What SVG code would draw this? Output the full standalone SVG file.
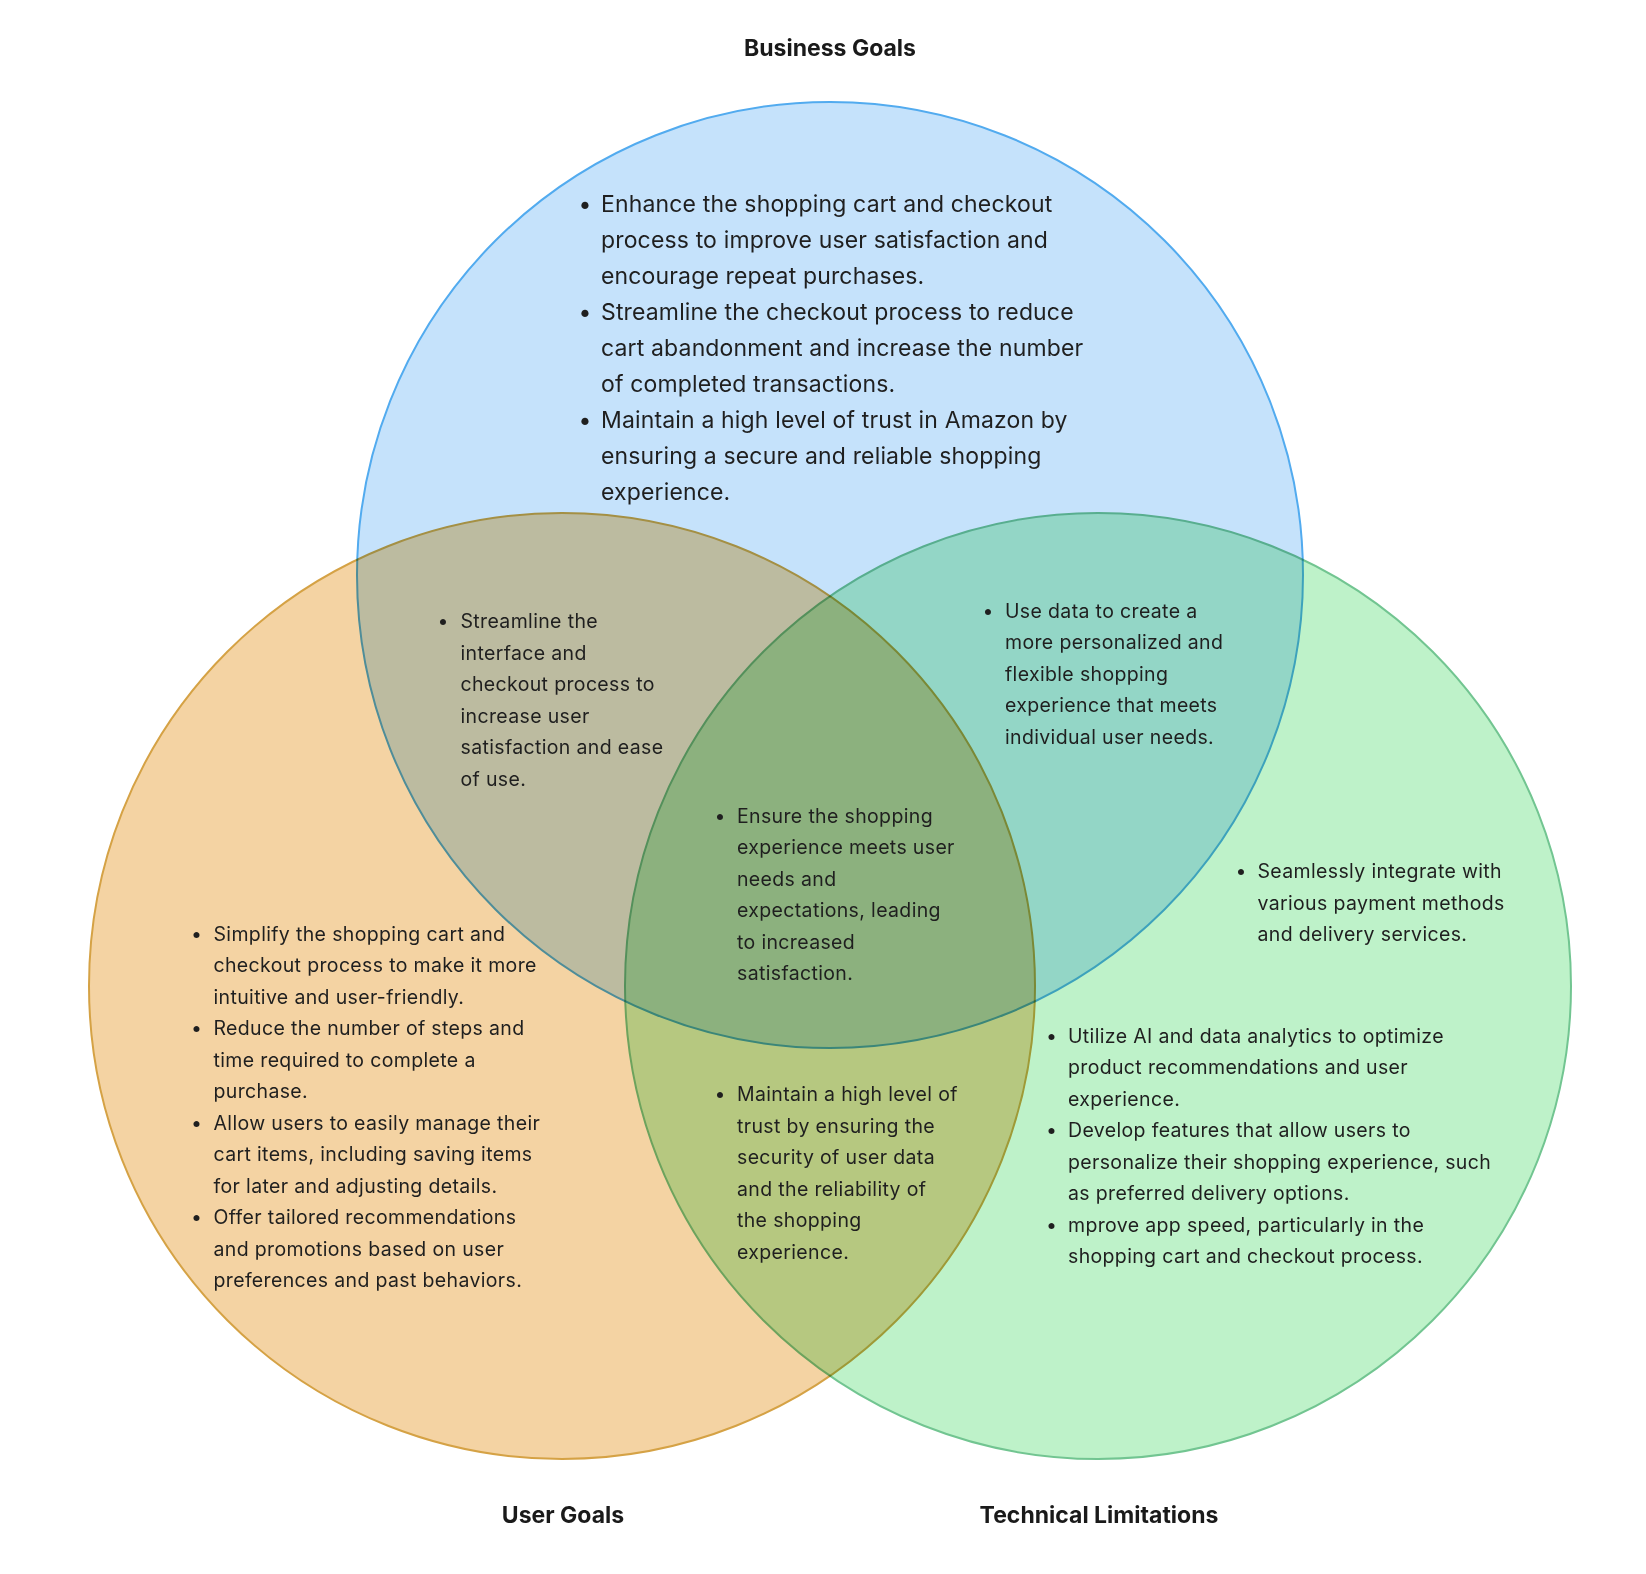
<svg xmlns="http://www.w3.org/2000/svg" width="1646" height="1574" viewBox="0 0 1646 1574">
<style>
.c{mix-blend-mode:multiply;stroke-width:2}
.title{font-family:Inter,"Noto Sans","Liberation Sans",sans-serif;font-weight:700;font-size:23px;fill:#1a1a1a;text-anchor:middle}
.big{font-family:Inter,"Noto Sans","Liberation Sans",sans-serif;font-size:23px;letter-spacing:0.15px;fill:#1f1f1f}
.sm{font-family:Inter,"Noto Sans","Liberation Sans",sans-serif;font-size:19.5px;letter-spacing:0.35px;fill:#1f1f1f}
.b{text-anchor:middle;letter-spacing:0}
</style>
<rect width="1646" height="1574" fill="#ffffff"/>
<g id="business-goals">
<circle class="c" cx="830" cy="575" r="473" fill="#c5e2fb" stroke="#52abef"/>
<text class="title" x="830" y="56">Business Goals</text>
</g>
<g id="user-goals">
<circle class="c" cx="562" cy="986" r="473" fill="#f4d3a3" stroke="#d5a245"/>
<text class="title" x="563" y="1523">User Goals</text>
</g>
<g id="technical-limitations">
<circle class="c" cx="1098" cy="986" r="473" fill="#bef2c9" stroke="#72c591"/>
<text class="title" x="1099" y="1523">Technical Limitations</text>
</g>
<g id="business-only">
<text class="big b" x="585" y="212">•</text>
<text class="big b" x="585" y="320">•</text>
<text class="big b" x="585" y="428">•</text>
<text class="big" x="601" y="212">Enhance the shopping cart and checkout</text>
<text class="big" x="601" y="248">process to improve user satisfaction and</text>
<text class="big" x="601" y="284">encourage repeat purchases.</text>
<text class="big" x="601" y="320">Streamline the checkout process to reduce</text>
<text class="big" x="601" y="356">cart abandonment and increase the number</text>
<text class="big" x="601" y="392">of completed transactions.</text>
<text class="big" x="601" y="428">Maintain a high level of trust in Amazon by</text>
<text class="big" x="601" y="464">ensuring a secure and reliable shopping</text>
<text class="big" x="601" y="500">experience.</text>
</g>
<g id="business-user">
<text class="sm b" x="443" y="628">•</text>
<text class="sm" x="460.5" y="628">Streamline the</text>
<text class="sm" x="460.5" y="659.5">interface and</text>
<text class="sm" x="460.5" y="691">checkout process to</text>
<text class="sm" x="460.5" y="722.5">increase user</text>
<text class="sm" x="460.5" y="754">satisfaction and ease</text>
<text class="sm" x="460.5" y="785.5">of use.</text>
</g>
<g id="business-technical">
<text class="sm b" x="988" y="617.5">•</text>
<text class="sm" x="1005" y="617.5">Use data to create a</text>
<text class="sm" x="1005" y="649">more personalized and</text>
<text class="sm" x="1005" y="680.5">flexible shopping</text>
<text class="sm" x="1005" y="712">experience that meets</text>
<text class="sm" x="1005" y="743.5">individual user needs.</text>
</g>
<g id="all-three">
<text class="sm b" x="720" y="822.5">•</text>
<text class="sm" x="737" y="822.5">Ensure the shopping</text>
<text class="sm" x="737" y="854">experience meets user</text>
<text class="sm" x="737" y="885.5">needs and</text>
<text class="sm" x="737" y="917">expectations, leading</text>
<text class="sm" x="737" y="948.5">to increased</text>
<text class="sm" x="737" y="980">satisfaction.</text>
</g>
<g id="technical-top">
<text class="sm b" x="1241" y="878">•</text>
<text class="sm" x="1257.5" y="878">Seamlessly integrate with</text>
<text class="sm" x="1257.5" y="909.5">various payment methods</text>
<text class="sm" x="1257.5" y="941">and delivery services.</text>
</g>
<g id="user-only">
<text class="sm b" x="196.5" y="940.5">•</text>
<text class="sm b" x="196.5" y="1035">•</text>
<text class="sm b" x="196.5" y="1129.5">•</text>
<text class="sm b" x="196.5" y="1224">•</text>
<text class="sm" x="213.5" y="940.5">Simplify the shopping cart and</text>
<text class="sm" x="213.5" y="972">checkout process to make it more</text>
<text class="sm" x="213.5" y="1003.5">intuitive and user-friendly.</text>
<text class="sm" x="213.5" y="1035">Reduce the number of steps and</text>
<text class="sm" x="213.5" y="1066.5">time required to complete a</text>
<text class="sm" x="213.5" y="1098">purchase.</text>
<text class="sm" x="213.5" y="1129.5">Allow users to easily manage their</text>
<text class="sm" x="213.5" y="1161">cart items, including saving items</text>
<text class="sm" x="213.5" y="1192.5">for later and adjusting details.</text>
<text class="sm" x="213.5" y="1224">Offer tailored recommendations</text>
<text class="sm" x="213.5" y="1255.5">and promotions based on user</text>
<text class="sm" x="213.5" y="1287">preferences and past behaviors.</text>
</g>
<g id="user-technical">
<text class="sm b" x="720" y="1101">•</text>
<text class="sm" x="737" y="1101">Maintain a high level of</text>
<text class="sm" x="737" y="1132.5">trust by ensuring the</text>
<text class="sm" x="737" y="1164">security of user data</text>
<text class="sm" x="737" y="1195.5">and the reliability of</text>
<text class="sm" x="737" y="1227">the shopping</text>
<text class="sm" x="737" y="1258.5">experience.</text>
</g>
<g id="technical-only">
<text class="sm b" x="1051.5" y="1042.5">•</text>
<text class="sm b" x="1051.5" y="1137">•</text>
<text class="sm b" x="1051.5" y="1231.5">•</text>
<text class="sm" x="1068" y="1042.5">Utilize AI and data analytics to optimize</text>
<text class="sm" x="1068" y="1074">product recommendations and user</text>
<text class="sm" x="1068" y="1105.5">experience.</text>
<text class="sm" x="1068" y="1137">Develop features that allow users to</text>
<text class="sm" x="1068" y="1168.5">personalize their shopping experience, such</text>
<text class="sm" x="1068" y="1200">as preferred delivery options.</text>
<text class="sm" x="1068" y="1231.5">mprove app speed, particularly in the</text>
<text class="sm" x="1068" y="1263">shopping cart and checkout process.</text>
</g>
</svg>
